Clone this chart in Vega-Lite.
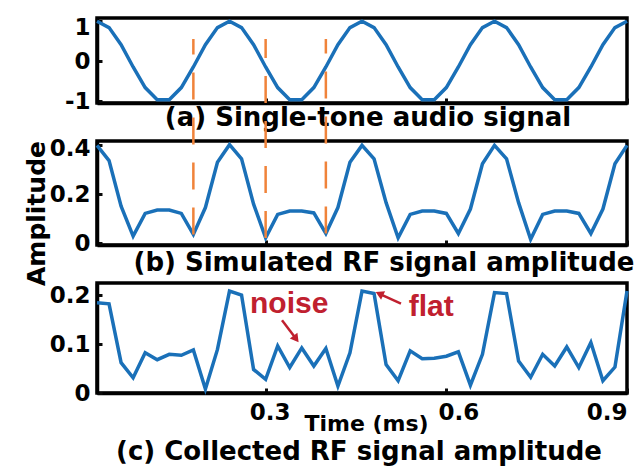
{
  "$schema": "https://vega.github.io/schema/vega-lite/v6.json",
  "padding": {"left": 22, "top": 12, "right": 0, "bottom": 0},
  "background": "white",
  "datasets": {
    "sig": [
      {"t": 0.02, "a": 1, "b": 0.40, "c": 0.184},
      {"t": 0.04, "a": 0.841, "b": 0.338, "c": 0.182},
      {"t": 0.06, "a": 0.415, "b": 0.152, "c": 0.062},
      {"t": 0.08, "a": -0.142, "b": 0.029, "c": 0.031},
      {"t": 0.10, "a": -0.655, "b": 0.122, "c": 0.082},
      {"t": 0.12, "a": -0.959, "b": 0.136, "c": 0.068},
      {"t": 0.14, "a": -0.959, "b": 0.136, "c": 0.079},
      {"t": 0.16, "a": -0.655, "b": 0.122, "c": 0.077},
      {"t": 0.18, "a": -0.142, "b": 0.036, "c": 0.088},
      {"t": 0.20, "a": 0.415, "b": 0.146, "c": 0.008},
      {"t": 0.22, "a": 0.841, "b": 0.331, "c": 0.089},
      {"t": 0.24, "a": 1, "b": 0.403, "c": 0.208},
      {"t": 0.26, "a": 0.841, "b": 0.345, "c": 0.200},
      {"t": 0.28, "a": 0.415, "b": 0.160, "c": 0.048},
      {"t": 0.30, "a": -0.142, "b": 0.022, "c": 0.028},
      {"t": 0.32, "a": -0.655, "b": 0.118, "c": 0.096},
      {"t": 0.34, "a": -0.959, "b": 0.132, "c": 0.052},
      {"t": 0.36, "a": -0.959, "b": 0.132, "c": 0.092},
      {"t": 0.38, "a": -0.655, "b": 0.124, "c": 0.055},
      {"t": 0.40, "a": -0.142, "b": 0.040, "c": 0.091},
      {"t": 0.42, "a": 0.415, "b": 0.146, "c": 0.014},
      {"t": 0.44, "a": 0.841, "b": 0.331, "c": 0.082},
      {"t": 0.46, "a": 1, "b": 0.400, "c": 0.208},
      {"t": 0.48, "a": 0.841, "b": 0.345, "c": 0.203},
      {"t": 0.50, "a": 0.415, "b": 0.166, "c": 0.058},
      {"t": 0.52, "a": -0.142, "b": 0.022, "c": 0.025},
      {"t": 0.54, "a": -0.655, "b": 0.118, "c": 0.086},
      {"t": 0.56, "a": -0.959, "b": 0.132, "c": 0.070},
      {"t": 0.58, "a": -0.959, "b": 0.132, "c": 0.071},
      {"t": 0.60, "a": -0.655, "b": 0.122, "c": 0.075},
      {"t": 0.62, "a": -0.142, "b": 0.040, "c": 0.084},
      {"t": 0.64, "a": 0.415, "b": 0.140, "c": 0.016},
      {"t": 0.66, "a": 0.841, "b": 0.325, "c": 0.079},
      {"t": 0.68, "a": 1, "b": 0.400, "c": 0.205},
      {"t": 0.70, "a": 0.841, "b": 0.345, "c": 0.203},
      {"t": 0.72, "a": 0.415, "b": 0.166, "c": 0.065},
      {"t": 0.74, "a": -0.142, "b": 0.016, "c": 0.032},
      {"t": 0.76, "a": -0.655, "b": 0.118, "c": 0.079},
      {"t": 0.78, "a": -0.959, "b": 0.132, "c": 0.055},
      {"t": 0.80, "a": -0.959, "b": 0.132, "c": 0.094},
      {"t": 0.82, "a": -0.655, "b": 0.122, "c": 0.052},
      {"t": 0.84, "a": -0.142, "b": 0.040, "c": 0.103},
      {"t": 0.86, "a": 0.415, "b": 0.140, "c": 0.025},
      {"t": 0.88, "a": 0.841, "b": 0.325, "c": 0.053},
      {"t": 0.90, "a": 1, "b": 0.400, "c": 0.208}
    ],
    "markers": [
      {"t": 0.18, "lo": 0.036, "hi": 0.835},
      {"t": 0.30, "lo": 0.022, "hi": 0.835},
      {"t": 0.40, "lo": 0.040, "hi": 0.835}
    ]
  },
  "spacing": 38,
  "bounds": "flush",
  "vconcat": [
    {
      "width": 530,
      "height": 85,
      "view": {"stroke": "black", "strokeWidth": 3.5},
      "title": {"text": "(a) Single-tone audio signal", "orient": "bottom", "anchor": "middle", "dx": 6, "offset": 13, "baseline": "alphabetic"},
      "layer": [
        {
          "mark": {"type": "rule", "color": "#9a9a9a", "strokeWidth": 3, "strokeDash": [34, 20], "strokeDashOffset": 47},
          "encoding": {"y": {"datum": 0, "type": "quantitative"}}
        },
        {
          "data": {"name": "sig"},
          "mark": {"type": "line", "color": "#1a70b8", "strokeWidth": 3.5},
          "encoding": {
            "x": {"field": "t", "type": "quantitative", "scale": {"domain": [0.02, 0.9], "nice": false, "zero": false}, "axis": {"values": [0.3, 0.6, 0.9], "labels": false, "domain": true, "title": null}},
            "y": {"field": "a", "type": "quantitative", "scale": {"domain": [-1.04, 1.08], "nice": false, "zero": false},
              "axis": {"values": [-1, 0, 1], "format": "~g", "domain": true, "title": null, "labelExpr": "replace(datum.label, '\u2212', '-')",
                "labelOffset": {"condition": {"test": "datum.value == 1", "value": 6}, "value": 0}}}
          }
        }
      ]
    },
    {
      "width": 530,
      "height": 104,
      "view": {"stroke": "black", "strokeWidth": 3.5},
      "title": {"text": "(b) Simulated RF signal amplitude", "orient": "bottom", "anchor": "middle", "dx": 22, "offset": -15, "baseline": "alphabetic"},
      "layer": [
        {
          "mark": {"type": "rule", "color": "#9a9a9a", "strokeWidth": 3, "strokeDash": [34, 20], "strokeDashOffset": 47},
          "encoding": {"y": {"datum": 0.2, "type": "quantitative"}}
        },
        {
          "data": {"name": "sig"},
          "mark": {"type": "line", "color": "#1a70b8", "strokeWidth": 3.5},
          "encoding": {
            "x": {"field": "t", "type": "quantitative", "scale": {"domain": [0.02, 0.9], "nice": false, "zero": false}, "axis": {"values": [0.3, 0.6, 0.9], "labels": false, "domain": true, "title": null}},
            "y": {"field": "b", "type": "quantitative", "scale": {"domain": [-0.007, 0.418], "nice": false, "zero": false},
              "axis": {"values": [0, 0.2, 0.4], "format": "~g", "domain": true, "title": "Amplitude", "titleX": -53, "titleY": 72, "titleAlign": "center", "titleAngle": -90, "titleBaseline": "alphabetic", "titleFontSize": 25,
                "labelOffset": {"condition": {"test": "datum.value == 0.4", "value": 3}, "value": 0}}}
          }
        },
        {
          "data": {"name": "markers"},
          "mark": {"type": "rule", "color": "#f0833a", "strokeWidth": 2.5, "strokeDash": [27, 18]},
          "encoding": {
            "x": {"field": "t", "type": "quantitative"},
            "y": {"field": "lo", "type": "quantitative"},
            "y2": {"field": "hi"}
          }
        }
      ]
    },
    {
      "width": 530,
      "height": 110,
      "view": {"stroke": "black", "strokeWidth": 3.5},
      "title": {"text": "(c) Collected RF signal amplitude", "orient": "bottom", "anchor": "middle", "dx": -3, "offset": 26, "baseline": "alphabetic"},
      "layer": [
        {
          "data": {"name": "sig"},
          "mark": {"type": "line", "color": "#1a70b8", "strokeWidth": 3.5},
          "encoding": {
            "x": {"field": "t", "type": "quantitative", "scale": {"domain": [0.02, 0.9], "nice": false, "zero": false},
              "axis": {"values": [0.3, 0.6, 0.9], "format": ".1f", "domain": true, "labelFlush": true, "labelPadding": 13,
                "labelOffset": {"condition": [{"test": "datum.value == 0.6", "value": 12}, {"test": "datum.value == 0.3", "value": 4}], "value": 0},
                "title": "Time (ms)", "titleX": 269, "titleY": 37, "titleAlign": "center", "titleBaseline": "alphabetic", "titleFontSize": 22}},
            "y": {"field": "c", "type": "quantitative", "scale": {"domain": [0, 0.2245], "nice": false, "zero": false},
              "axis": {"values": [0, 0.1, 0.2], "format": "~g", "domain": true, "title": null}}
          }
        },
        {
          "data": {"values": [{"x1": 0.3272, "y1": 0.1484, "x2": 0.3492, "y2": 0.1127}, {"x1": 0.5247, "y1": 0.1822, "x2": 0.4909, "y2": 0.2012}]},
          "mark": {"type": "rule", "color": "#c0202f", "strokeWidth": 2.5},
          "encoding": {
            "x": {"field": "x1", "type": "quantitative"},
            "y": {"field": "y1", "type": "quantitative"},
            "x2": {"field": "x2"},
            "y2": {"field": "y2"}
          }
        },
        {
          "data": {"values": [{"x": 0.3492, "y": 0.1127}]},
          "mark": {"type": "point", "shape": "triangle", "filled": true, "color": "#c0202f", "size": 90, "angle": 143, "opacity": 1},
          "encoding": {"x": {"field": "x", "type": "quantitative"}, "y": {"field": "y", "type": "quantitative"}}
        },
        {
          "data": {"values": [{"x": 0.4909, "y": 0.2012}]},
          "mark": {"type": "point", "shape": "triangle", "filled": true, "color": "#c0202f", "size": 90, "angle": 295, "opacity": 1},
          "encoding": {"x": {"field": "x", "type": "quantitative"}, "y": {"field": "y", "type": "quantitative"}}
        },
        {
          "data": {"values": [{"x": 0.274, "y": 0.163, "label": "noise"}, {"x": 0.5375, "y": 0.157, "label": "flat"}]},
          "mark": {"type": "text", "align": "left", "baseline": "alphabetic", "font": "Liberation Sans", "fontWeight": "bold", "fontSize": 30, "color": "#c0202f"},
          "encoding": {"x": {"field": "x", "type": "quantitative"}, "y": {"field": "y", "type": "quantitative"}, "text": {"field": "label"}}
        }
      ]
    }
  ],
  "config": {
    "view": {"stroke": "black", "strokeWidth": 3.5},
    "axis": {"domain": true, "domainColor": "#000000", "domainWidth": 3.5, "grid": false, "ticks": true, "tickSize": -5, "tickWidth": 3, "tickColor": "#0a0a0a",
      "labelFont": "DejaVu Sans", "labelFontWeight": "bold", "labelFontSize": 23, "labelColor": "#000000", "labelPadding": 12,
      "titleFont": "DejaVu Sans", "titleFontWeight": "bold", "titleColor": "#000000"},
    "title": {"font": "DejaVu Sans", "fontWeight": "bold", "fontSize": 26, "color": "#000000"}
  }
}
